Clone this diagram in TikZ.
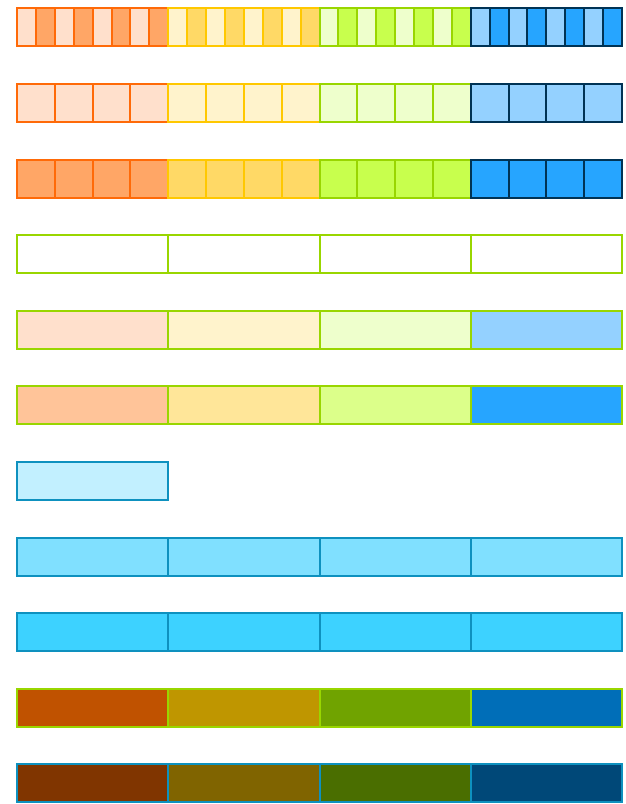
\documentclass[tikz,border=0pt]{standalone}
\usepackage{tikz}

\definecolor{orangeS}{HTML}{FF6A08}
\definecolor{orangeL}{HTML}{FFE0CC}
\definecolor{orangeD}{HTML}{FFA666}
\definecolor{orangeM}{HTML}{FFC499}
\definecolor{orangeX}{HTML}{C05200}
\definecolor{orangeXX}{HTML}{803500}
\definecolor{yellowS}{HTML}{FFC800}
\definecolor{yellowL}{HTML}{FFF3CC}
\definecolor{yellowD}{HTML}{FFD966}
\definecolor{yellowM}{HTML}{FFE699}
\definecolor{yellowX}{HTML}{BF9600}
\definecolor{yellowXX}{HTML}{806400}
\definecolor{greenS}{HTML}{99D600}
\definecolor{greenL}{HTML}{EEFFCC}
\definecolor{greenD}{HTML}{C8FF4D}
\definecolor{greenM}{HTML}{DCFF8A}
\definecolor{greenX}{HTML}{70A300}
\definecolor{greenXX}{HTML}{4A6E00}
\definecolor{blueS}{HTML}{003355}
\definecolor{blueL}{HTML}{94D1FF}
\definecolor{blueD}{HTML}{26A5FF}
\definecolor{blueX}{HTML}{006EB8}
\definecolor{blueXX}{HTML}{004878}
\definecolor{cyanS}{HTML}{0E91BF}
\definecolor{cyanL}{HTML}{C2F0FF}
\definecolor{cyanM}{HTML}{80E0FF}
\definecolor{cyanD}{HTML}{3DD2FF}

\begin{document}
\begin{tikzpicture}[
  x=1pt,y=-1pt,
  cell/.style={line width=2pt},
  greenbar/.style={cell,draw=greenS},
  cyanbar/.style={cell,draw=cyanS}
]
  \useasboundingbox (0,0) rectangle (626,804);
  \def\gw{151.25}
  \def\bh{38}
  \def\rs{75.6}
  \def\ytop{8.3}

  % striped row, eight cells per group
  \foreach \s/\l/\d [count=\g from 0] in
      {orangeS/orangeL/orangeD,yellowS/yellowL/yellowD,greenS/greenL/greenD,blueS/blueL/blueD}{
    \foreach \k in {0,...,7}{
      \ifodd\k\def\f{\d}\else\def\f{\l}\fi
      \draw[cell,draw=\s,fill=\f] (17+\g*\gw+\k*\gw/8,\ytop) rectangle ++(\gw/8,\bh);
    }
  }

  % light and dark rows, four cells per group
  \foreach \s/\l/\d [count=\g from 0] in
      {orangeS/orangeL/orangeD,yellowS/yellowL/yellowD,greenS/greenL/greenD,blueS/blueL/blueD}{
    \foreach \k in {0,...,3}{
      \draw[cell,draw=\s,fill=\l] (17+\g*\gw+\k*\gw/4,\ytop+\rs) rectangle ++(\gw/4,\bh);
      \draw[cell,draw=\s,fill=\d] (17+\g*\gw+\k*\gw/4,\ytop+2*\rs) rectangle ++(\gw/4,\bh);
    }
  }

  % green framed bars
  \foreach \r/\fa/\fb/\fc/\fd in {3/white/white/white/white,
      4/orangeL/yellowL/greenL/blueL,
      5/orangeM/yellowM/greenM/blueD,
      9/orangeX/yellowX/greenX/blueX}{
    \foreach \f [count=\g from 0] in {\fa,\fb,\fc,\fd}
      \draw[greenbar,fill=\f] (17+\g*\gw,\ytop+\r*\rs) rectangle ++(\gw,\bh);
  }

  % cyan framed bars
  \draw[cyanbar,fill=cyanL] (17,\ytop+6*\rs) rectangle ++(\gw,\bh);
  \foreach \r/\fa/\fb/\fc/\fd in {7/cyanM/cyanM/cyanM/cyanM,
      8/cyanD/cyanD/cyanD/cyanD,
      10/orangeXX/yellowXX/greenXX/blueXX}{
    \foreach \f [count=\g from 0] in {\fa,\fb,\fc,\fd}
      \draw[cyanbar,fill=\f] (17+\g*\gw,\ytop+\r*\rs) rectangle ++(\gw,\bh);
  }
\end{tikzpicture}
\end{document}
